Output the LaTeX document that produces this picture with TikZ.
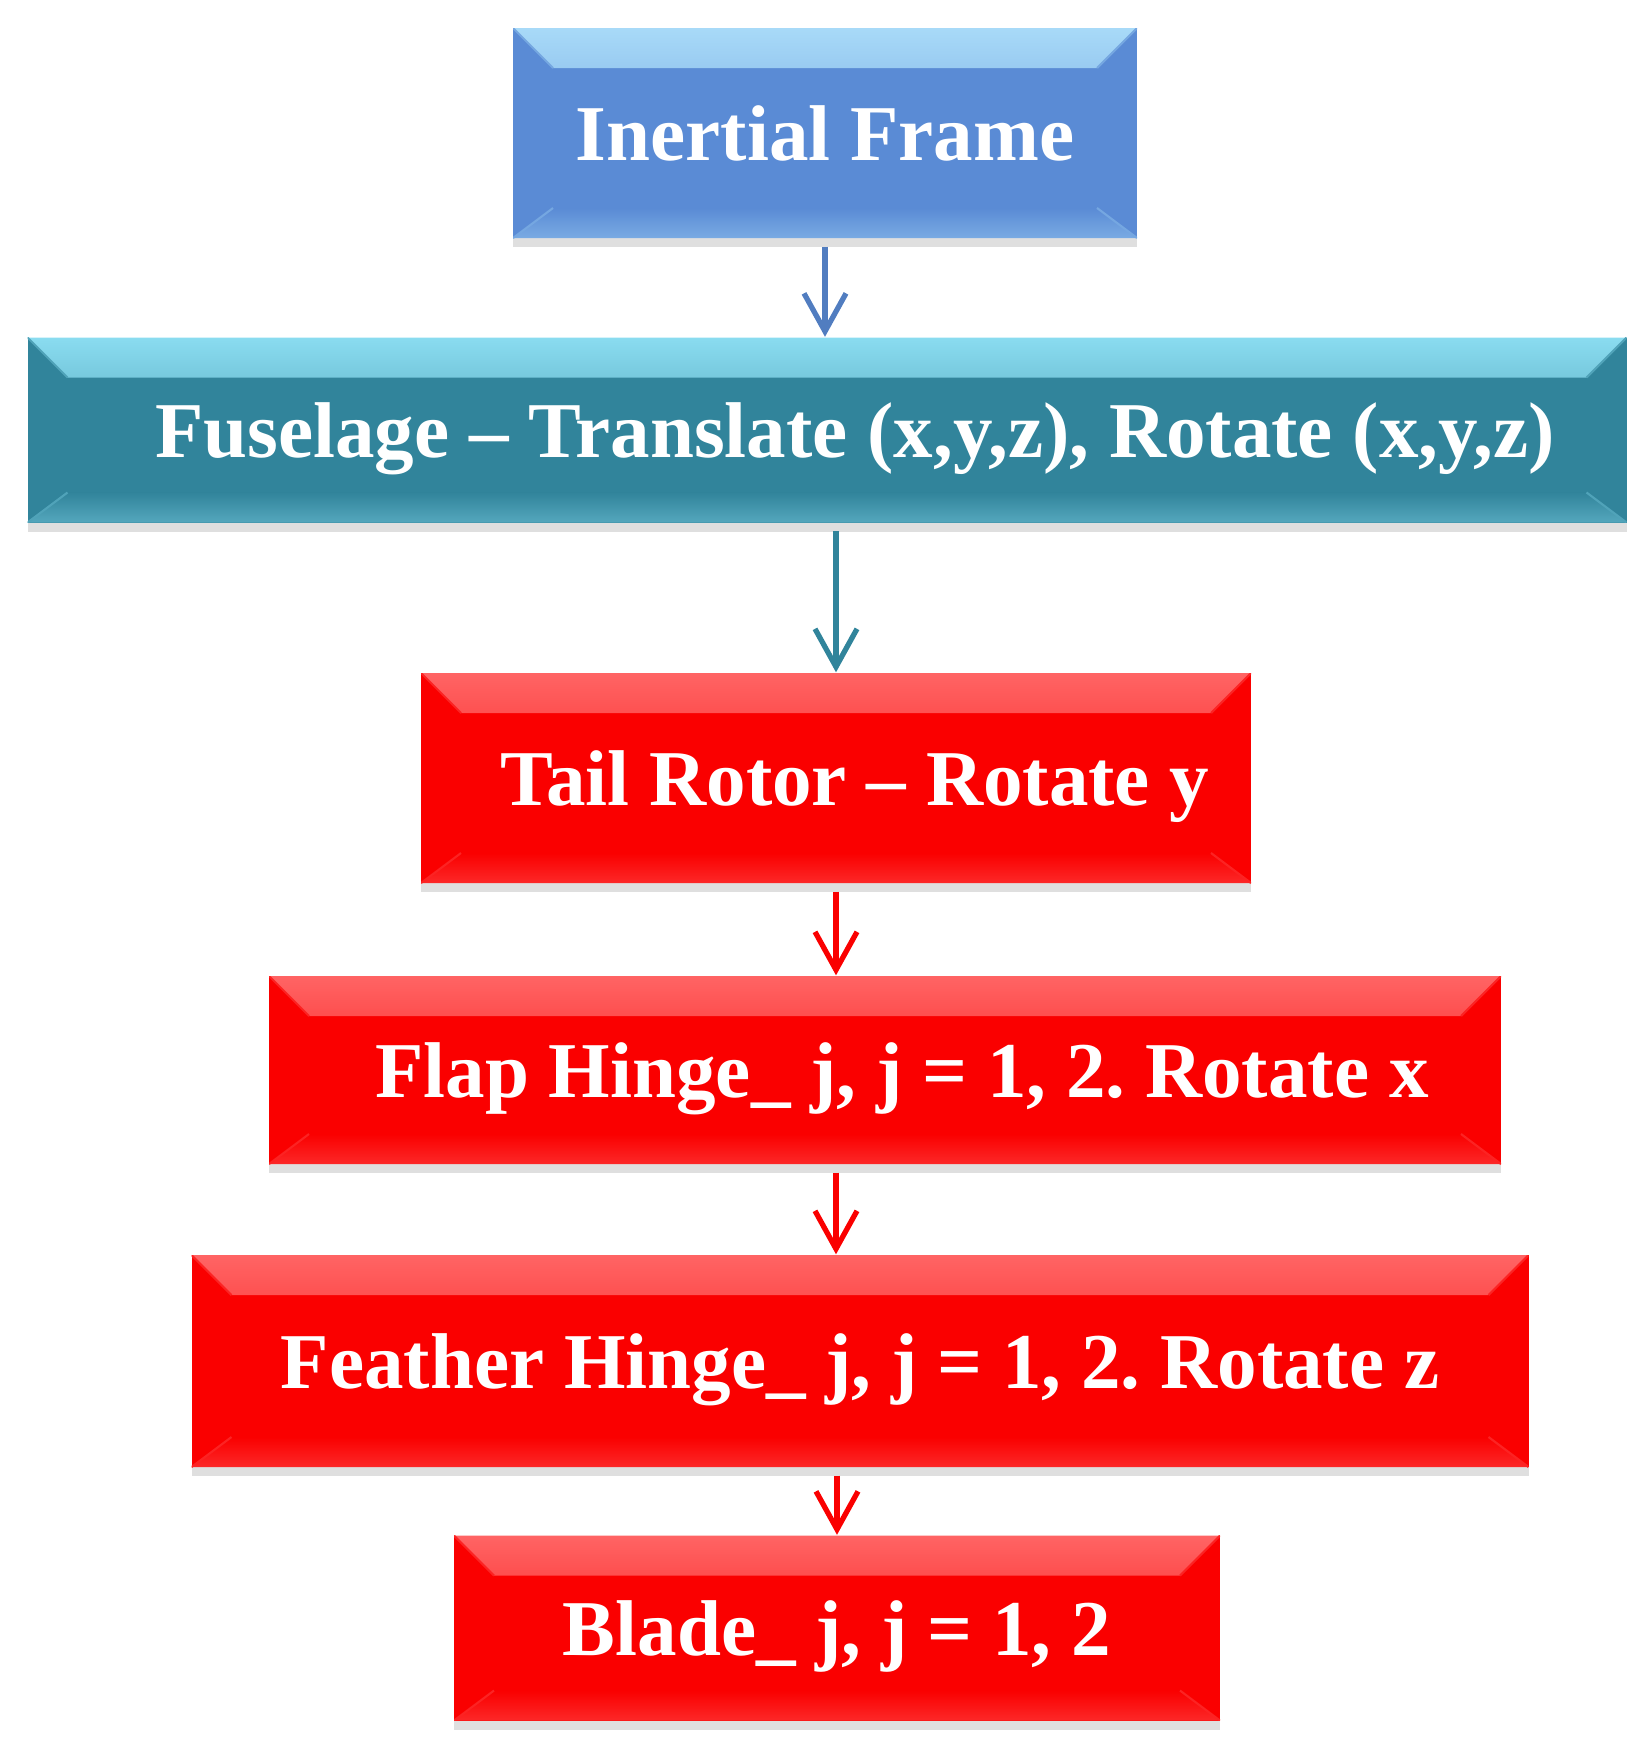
\documentclass[tikz,border=0pt]{standalone}
\usepackage{fontspec}
\setmainfont{Liberation Serif}
\usetikzlibrary{arrows.meta,shadows}
\frenchspacing

\definecolor{ifblue}{HTML}{5A8BD5}
\definecolor{ifblueL}{HTML}{A8DAF8}
\definecolor{fusteal}{HTML}{31849B}
\definecolor{fustealL}{HTML}{8ADCF0}
\definecolor{rotred}{HTML}{FA0000}
\definecolor{rotredL}{HTML}{FF6464}

\tikzset{
  blk/.style 2 args={fill=#1, text=white, inner sep=0pt, text depth=0pt,
    font=\bfseries\fontsize{22.5}{27}\selectfont,
    drop shadow={opacity=0.25, shadow xshift=0pt, shadow yshift=-0.09cm},
    path picture={
      \shade[top color=#2, bottom color=#1]
        (path picture bounding box.north west) -- (path picture bounding box.north east)
        -- ([shift={(-0.4,-0.4)}]path picture bounding box.north east)
        -- ([shift={(0.4,-0.4)}]path picture bounding box.north west) -- cycle;
      \shade[top color=#1, bottom color=#2!40!#1]
        ([shift={(0.4,0.3)}]path picture bounding box.south west)
        -- ([shift={(-0.4,0.3)}]path picture bounding box.south east)
        -- (path picture bounding box.south east) -- (path picture bounding box.south west) -- cycle;
      \draw[#2!35!#1, line width=0.6pt]
        (path picture bounding box.north west) -- ([shift={(0.4,-0.4)}]path picture bounding box.north west)
        (path picture bounding box.north east) -- ([shift={(-0.4,-0.4)}]path picture bounding box.north east)
        (path picture bounding box.south west) -- ([shift={(0.4,0.3)}]path picture bounding box.south west)
        (path picture bounding box.south east) -- ([shift={(-0.4,0.3)}]path picture bounding box.south east);
    }},
  lnk/.style={-{Straight Barb[length=0.38cm,width=0.42cm]}, line width=1.5pt, shorten <=0.08cm}
}

\begin{document}
\begin{tikzpicture}
  \useasboundingbox (0,0) rectangle (16.49,-17.55);
  \node[blk={ifblue}{ifblueL}, minimum width=6.24cm, minimum height=2.10cm] (IF) at (8.25,-1.33) {Inertial Frame};
  \node[blk={fusteal}{fustealL}, minimum width=15.99cm, minimum height=1.85cm] (fus) at (8.27,-4.30) {\hspace*{0.56cm}Fuselage -- Translate (x,y,z), Rotate (x,y,z)};
  \node[blk={rotred}{rotredL}, minimum width=8.30cm, minimum height=2.10cm] (tail) at (8.36,-7.78) {\hspace*{0.38cm}Tail Rotor -- Rotate y};
  \node[blk={rotred}{rotredL}, minimum width=12.32cm, minimum height=1.88cm] (flap) at (8.85,-10.70) {\hspace*{0.34cm}Flap Hinge\_ j, j = 1, 2. Rotate x};
  \node[blk={rotred}{rotredL}, minimum width=13.37cm, minimum height=2.12cm] (feather) at (8.60,-13.61) {Feather Hinge\_ j, j = 1, 2. Rotate z};
  \node[blk={rotred}{rotredL}, minimum width=7.66cm, minimum height=1.85cm] (blade) at (8.37,-16.28) {Blade\_ j, j = 1, 2};
  \draw[lnk, color=ifblue!90!black] (IF.south) -- (IF.south |- fus.north);
  \draw[lnk, color=fusteal] (tail.north |- fus.south) -- (tail.north);
  \draw[lnk, color=rotred] (tail.south) -- (tail.south |- flap.north);
  \draw[lnk, color=rotred] (flap.south -| tail.south) -- (feather.north -| tail.south);
  \draw[lnk, color=rotred] (blade.north |- feather.south) -- (blade.north);
\end{tikzpicture}
\end{document}
